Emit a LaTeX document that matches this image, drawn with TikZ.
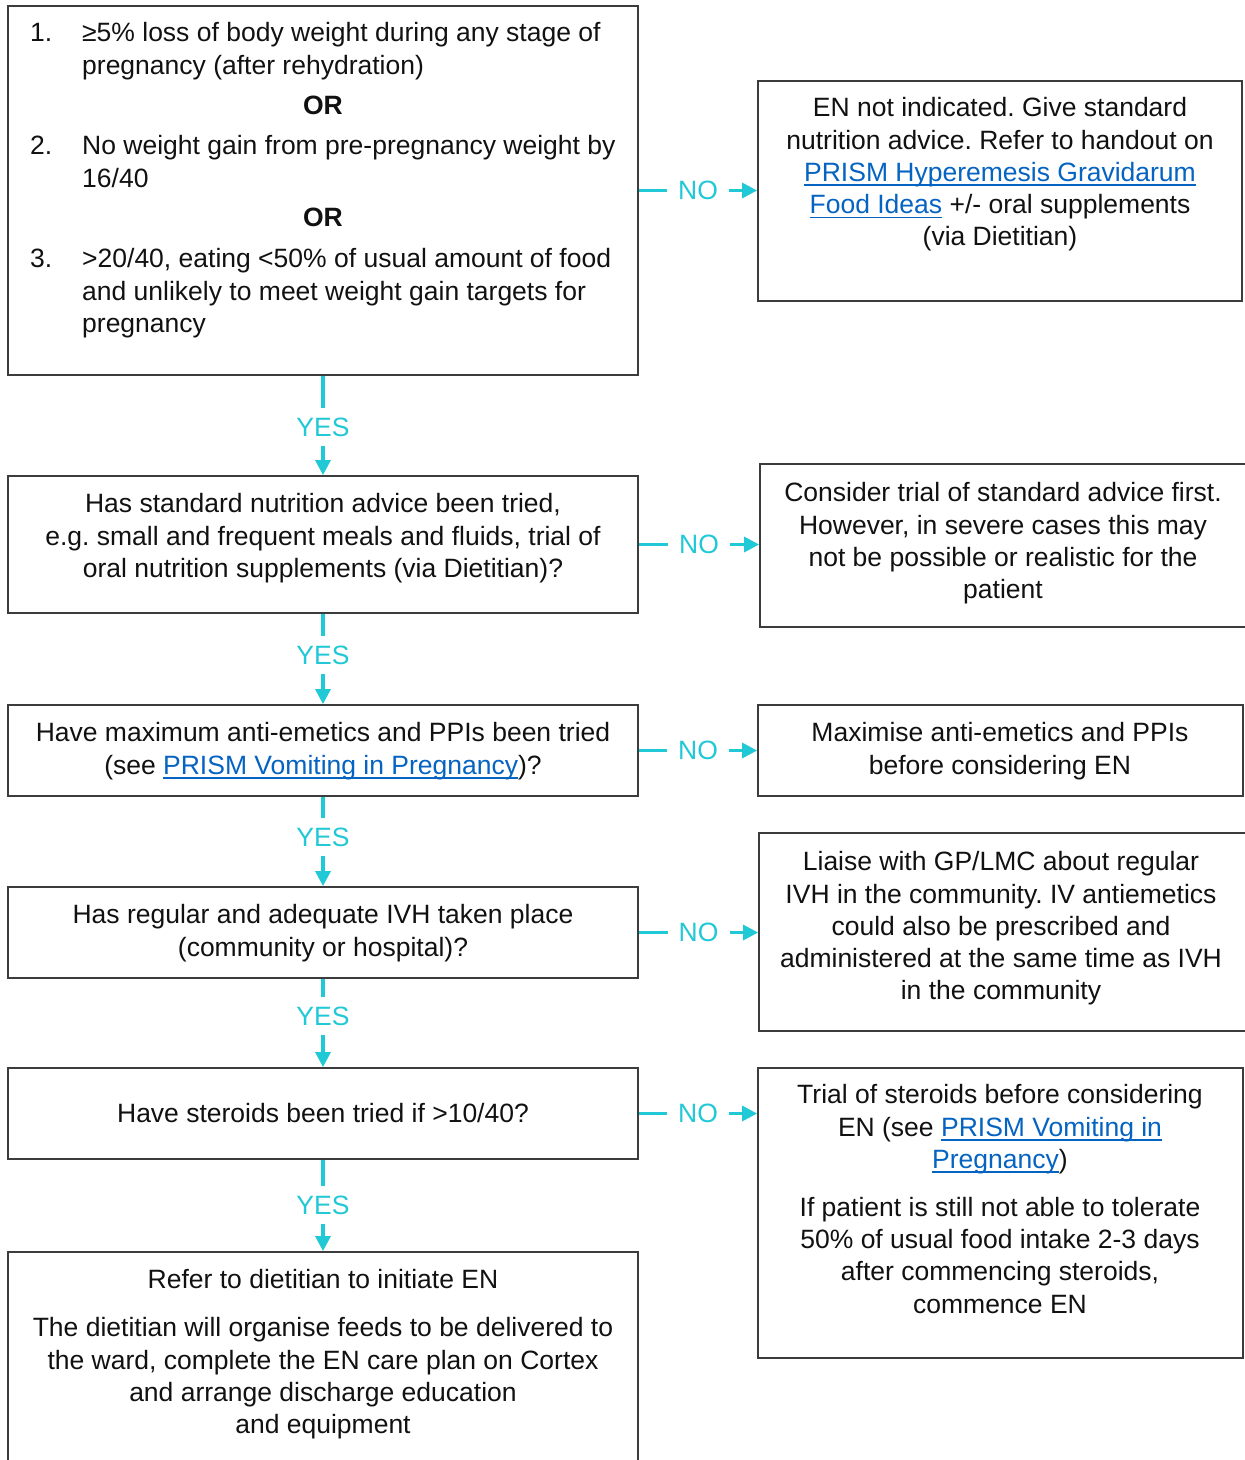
\documentclass[tikz,border=0pt]{standalone}
\usepackage{fontspec}
\setmainfont{Liberation Sans}
\usetikzlibrary{arrows.meta}
\definecolor{cy}{HTML}{21C8D6}
\definecolor{lnkblue}{HTML}{0563C1}
\definecolor{boxgray}{HTML}{3C3C3C}
\definecolor{txtblack}{HTML}{111111}
\newsavebox{\lnkbox}
\newcommand{\lnk}[1]{{\color{lnkblue}\sbox{\lnkbox}{#1}\rlap{\rule[-4.5pt]{\wd\lnkbox}{1.5pt}}\usebox{\lnkbox}}}
\frenchspacing
\begin{document}
\begin{tikzpicture}[x=1pt,y=-1pt,
  box/.style={draw=boxgray, line width=1.8pt, inner sep=0pt, fill=white},
  txt/.style={inner sep=0pt, anchor=north, align=center, text=txtblack, font=\fontsize{26.5}{32.3}\selectfont\frenchspacing},
  txtl/.style={txt, anchor=north west, align=left},
  conn/.style={draw=cy, line width=3.2pt, -{Triangle[length=15pt,width=15pt]}},
  yeslab/.style={fill=white, text=cy, inner xsep=2pt, inner ysep=0pt, minimum height=38pt, font=\fontsize{26.5}{32.3}\selectfont},
  nolab/.style={fill=white, text=cy, inner xsep=0pt, inner ysep=2pt, minimum width=62pt, font=\fontsize{26.5}{32.3}\selectfont}
]
\useasboundingbox (0,0) rectangle (1245,1460);
\clip (0,0) rectangle (1245,1460);
\fill[white] (0,0) rectangle (1245,1460);

% left boxes
\node[box, minimum width=630pt, minimum height=369pt] (b1) at (323,190.5) {};
\node[box, minimum width=630pt, minimum height=137pt] (b2) at (323,544.5) {};
\node[box, minimum width=630pt, minimum height=91pt] (b3) at (323,750.5) {};
\node[box, minimum width=630pt, minimum height=91pt] (b4) at (323,932.5) {};
\node[box, minimum width=630pt, minimum height=91pt] (b5) at (323,1113.5) {};
\node[box, minimum width=630pt, minimum height=248pt] (b6) at (323,1376) {};

% right boxes
\node[box, minimum width=484pt, minimum height=220pt] (r1) at (1000,191) {};
\node[box, minimum width=495pt, minimum height=163pt] (r2) at (1007.5,545.5) {};
\node[box, minimum width=485pt, minimum height=91pt] (r3) at (1000.5,750.5) {};
\node[box, minimum width=496pt, minimum height=198pt] (r4) at (1007,932) {};
\node[box, minimum width=485pt, minimum height=290pt] (r5) at (1000.5,1213) {};

% texts box 1
\node[txtl] (n1) at (30,18.9) {\strut 1.};
\node[txtl] (i1) at (82,18.9) {\strut ≥5\% loss of body weight during any stage of\\pregnancy (after rehydration)};
\node[txt] (or1) at (323,91.9) {\strut\textbf{OR}};
\node[txtl] (n2) at (30,131.9) {\strut 2.};
\node[txtl] (i2) at (82,131.9) {\strut No weight gain from pre-pregnancy weight by\\16/40};
\node[txt] (or2) at (323,203.9) {\strut\textbf{OR}};
\node[txtl] (n3) at (30,244.9) {\strut 3.};
\node[txtl] (i3) at (82,244.9) {\strut >20/40, eating <50\% of usual amount of food\\and unlikely to meet weight gain targets for\\pregnancy};

% other left texts
\node[txt] (t2) at (323,489.9) {\strut Has standard nutrition advice been tried,\\e.g. small and frequent meals and fluids, trial of\\oral nutrition supplements (via Dietitian)?};
\node[txt] (t3) at (323,718.9) {\strut Have maximum anti-emetics and PPIs been tried\\(see \lnk{PRISM Vomiting in Pregnancy})?};
\node[txt] (t4) at (323,900.9) {\strut Has regular and adequate IVH taken place\\(community or hospital)?};
\node[txt] (t5) at (323,1099.9) {\strut Have steroids been tried if >10/40?};
\node[txt] (t6) at (323,1265.9) {\strut Refer to dietitian to initiate EN\\[15.7pt]The dietitian will organise feeds to be delivered to\\the ward, complete the EN care plan on Cortex\\and arrange discharge education\\and equipment};

% right texts
\node[txt] (s1) at (1000,93.9) {\strut EN not indicated. Give standard\\nutrition advice. Refer to handout on\\\lnk{PRISM Hyperemesis Gravidarum}\\\lnk{Food Ideas} +/- oral supplements\\(via Dietitian)};
\node[txt] (s2) at (1003,478.9) {\strut Consider trial of standard advice first.\\However, in severe cases this may\\not be possible or realistic for the\\patient};
\node[txt] (s3) at (1000,718.9) {\strut Maximise anti-emetics and PPIs\\before considering EN};
\node[txt] (s4) at (1001,847.9) {\strut Liaise with GP/LMC about regular\\IVH in the community. IV antiemetics\\could also be prescribed and\\administered at the same time as IVH\\in the community};
\node[txt] (s5) at (1000,1080.9) {\strut Trial of steroids before considering\\EN (see \lnk{PRISM Vomiting in}\\\lnk{Pregnancy})\\[15.7pt]If patient is still not able to tolerate\\50\% of usual food intake 2-3 days\\after commencing steroids,\\commence EN};

% YES connectors
\draw[conn] (b1.south) -- node[yeslab, pos=0.515] (y1) {YES} (b2.north);
\draw[conn] (b2.south) -- node[yeslab, pos=0.457] (y2) {YES} (b3.north);
\draw[conn] (b3.south) -- node[yeslab, pos=0.45] (y3) {YES} (b4.north);
\draw[conn] (b4.south) -- node[yeslab, pos=0.42] (y4) {YES} (b5.north);
\draw[conn] (b5.south) -- node[yeslab, pos=0.495] (y5) {YES} (b6.north);

% NO connectors
\draw[conn] (b1.east) -- node[nolab] (o1) {NO} (b1.east -| r1.west);
\draw[conn] (b2.east) -- node[nolab] (o2) {NO} (b2.east -| r2.west);
\draw[conn] (b3.east) -- node[nolab] (o3) {NO} (b3.east -| r3.west);
\draw[conn] (b4.east) -- node[nolab] (o4) {NO} (b4.east -| r4.west);
\draw[conn] (b5.east) -- node[nolab] (o5) {NO} (b5.east -| r5.west);
\end{tikzpicture}
\end{document}
